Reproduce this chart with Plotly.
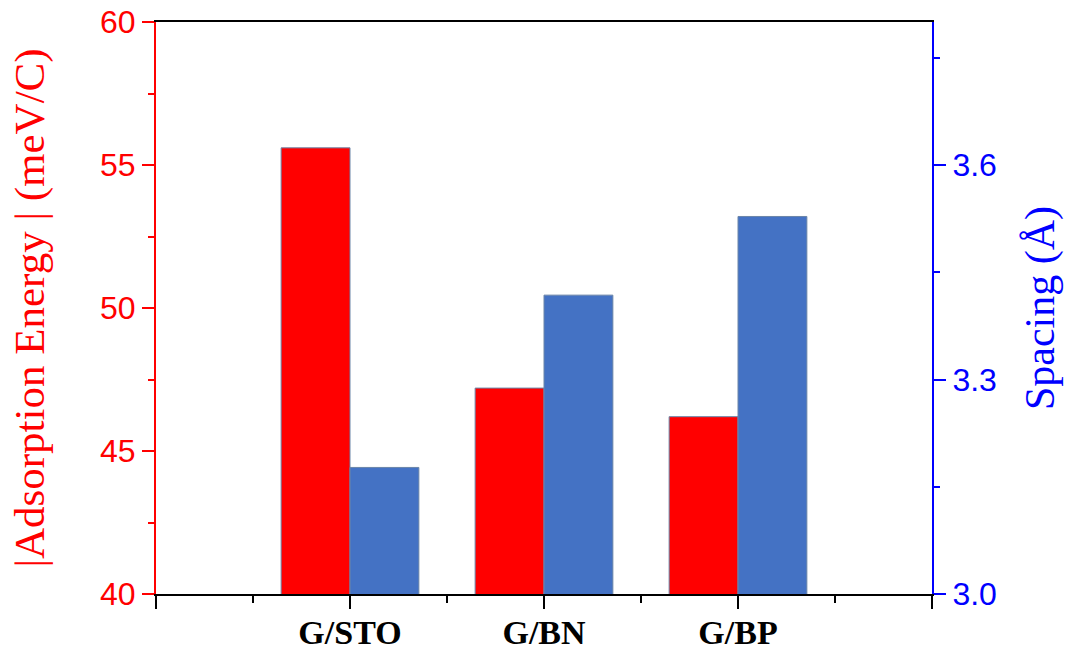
import plotly.graph_objects as go

categories = ["G/STO", "G/BN", "G/BP"]
adsorption_energy = [55.6, 47.2, 46.2]   # |meV/C|
spacing = [3.177, 3.418, 3.528]          # Å

left_ticks = [40, 45, 50, 55, 60]
right_ticks = [3.0, 3.3, 3.6]

xpos = list(range(1, len(categories) + 1))
bw = 0.355

RED = "#ff0000"
BLUE = "#0000ff"
BARBLUE = "#4472c4"

fig = go.Figure()
fig.add_trace(go.Bar(
    x=xpos, y=adsorption_energy, width=bw, offset=-bw,
    marker=dict(color=RED, line=dict(color="#6a85a8", width=1)),
    yaxis="y", showlegend=False,
))
fig.add_trace(go.Bar(
    x=xpos, y=spacing, width=bw, offset=0,
    marker=dict(color=BARBLUE, line=dict(color="#6a85a8", width=1)),
    yaxis="y2", showlegend=False,
))

fig.update_layout(
    width=1069, height=653,
    margin=dict(l=156, r=137, t=22, b=59, autoexpand=False),
    paper_bgcolor="white", plot_bgcolor="white",
    barmode="overlay",
    xaxis=dict(
        range=[0, len(categories) + 1],
        automargin=False,
        tickmode="array",
        tickvals=list(range(0, len(categories) + 2)),
        ticktext=[""] + categories + [""],
        ticks="outside", ticklen=13, tickwidth=2, tickcolor="black",
        ticklabelstandoff=-6,
        minor=dict(ticks="outside", ticklen=7, tickwidth=2, tickcolor="black",
                   tick0=0.5, dtick=1),
        showline=True, linecolor="black", linewidth=2, mirror=True,
        showgrid=False, zeroline=False,
        tickfont=dict(family="Liberation Serif", size=34, color="black", weight="bold"),
    ),
    yaxis=dict(
        range=[40, 60],
        automargin=False,
        tickmode="array", tickvals=left_ticks,
        ticks="outside", ticklen=12, tickwidth=2, tickcolor=RED,
        minor=dict(ticks="outside", ticklen=6, tickwidth=2, tickcolor=RED,
                   tick0=42.5, dtick=5),
        showline=True, linecolor=RED, linewidth=2,
        showgrid=False, zeroline=False,
        tickfont=dict(family="Liberation Sans", size=32, color=RED),
        title=dict(text="|Adsorption Energy | (meV/C)",
                   font=dict(family="Liberation Serif", size=43, color=RED),
                   standoff=42),
    ),
    yaxis2=dict(
        range=[3.0, 3.8], overlaying="y", side="right",
        automargin=False,
        tickmode="array", tickvals=right_ticks, tickformat=".1f",
        ticks="outside", ticklen=12, tickwidth=2, tickcolor=BLUE,
        minor=dict(ticks="outside", ticklen=6, tickwidth=2, tickcolor=BLUE,
                   tick0=3.15, dtick=0.3),
        showline=True, linecolor=BLUE, linewidth=2,
        showgrid=False, zeroline=False,
        tickfont=dict(family="Liberation Sans", size=32, color=BLUE),
        title=dict(text="Spacing (Å)",
                   font=dict(family="Liberation Serif", size=42, color=BLUE),
                   standoff=29),
    ),
)

fig.write_html(
    "out.html",
    config={"displayModeBar": False},
    post_script="document.body.style.margin='0';document.body.style.overflow='hidden';",
)
